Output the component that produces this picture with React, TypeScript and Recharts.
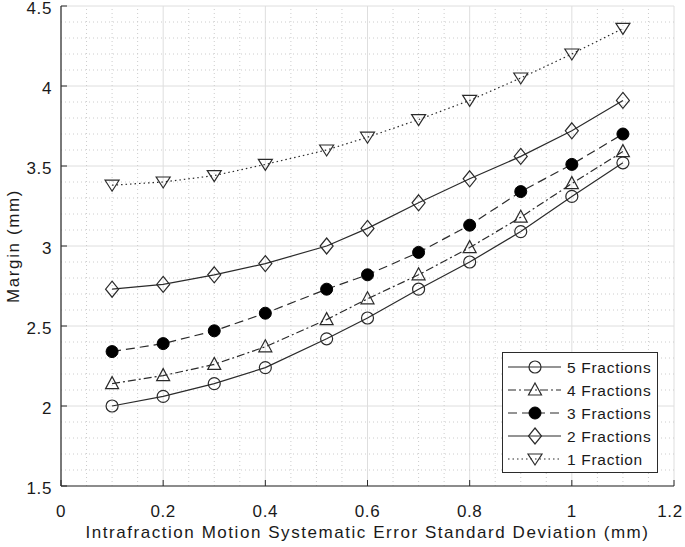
import React from 'react';
import { LineChart, Line, XAxis, YAxis, CartesianGrid, ReferenceLine, Legend } from 'recharts';

const xValues = [0.1, 0.2, 0.3, 0.4, 0.52, 0.6, 0.7, 0.8, 0.9, 1.0, 1.1];
const fractions5 = [2.0, 2.06, 2.14, 2.24, 2.42, 2.55, 2.73, 2.9, 3.09, 3.31, 3.52];
const fractions4 = [2.14, 2.19, 2.26, 2.37, 2.54, 2.67, 2.82, 2.99, 3.18, 3.39, 3.59];
const fractions3 = [2.34, 2.39, 2.47, 2.58, 2.73, 2.82, 2.96, 3.13, 3.34, 3.51, 3.7];
const fractions2 = [2.73, 2.76, 2.82, 2.89, 3.0, 3.11, 3.27, 3.42, 3.56, 3.72, 3.91];
const fractions1 = [3.38, 3.4, 3.44, 3.51, 3.6, 3.68, 3.79, 3.91, 4.05, 4.2, 4.36];

const xTicks = [0, 0.2, 0.4, 0.6, 0.8, 1, 1.2];
const yTicks = [1.5, 2, 2.5, 3, 3.5, 4, 4.5];
const xMinorTicks = [0.05, 0.1, 0.15, 0.25, 0.3, 0.35, 0.45, 0.5, 0.55, 0.65, 0.7, 0.75, 0.85, 0.9, 0.95, 1.05, 1.1, 1.15];
const yMinorTicks = [1.6, 1.7, 1.8, 1.9, 2.1, 2.2, 2.3, 2.4, 2.6, 2.7, 2.8, 2.9, 3.1, 3.2, 3.3, 3.4, 3.6, 3.7, 3.8, 3.9, 4.1, 4.2, 4.3, 4.4];

const seriesNames = ['5 Fractions', '4 Fractions', '3 Fractions', '2 Fractions', '1 Fraction'];
const seriesValues = [fractions5, fractions4, fractions3, fractions2, fractions1];
const seriesDashes = [undefined, '8 3 2 3', '9 5', undefined, '1.5 3'];
const seriesMarkers = ['circle', 'tri', 'filled', 'diamond', 'down'];

const data = xValues.map((x, i) => {
  const row: any = { x };
  seriesValues.forEach((vals, s) => {
    row['s' + s] = vals[i];
  });
  return row;
});

const INK = '#2b2b2b';
const FONT = '"Liberation Sans", Arial, Helvetica, sans-serif';

function Marker({ cx, cy, kind }: { cx: number; cy: number; kind: string }) {
  if (cx == null || cy == null) return null;
  const common = { stroke: INK, strokeWidth: 1.2, fill: 'none' };
  switch (kind) {
    case 'circle':
      return <circle cx={cx} cy={cy} r={6} {...common} />;
    case 'filled':
      return <circle cx={cx} cy={cy} r={6} fill="#000" stroke="#000" strokeWidth={1} />;
    case 'tri':
      return <polygon points={`${cx},${cy - 7} ${cx + 6.5},${cy + 5} ${cx - 6.5},${cy + 5}`} {...common} />;
    case 'diamond':
      return <polygon points={`${cx},${cy - 8} ${cx + 6.5},${cy} ${cx},${cy + 8} ${cx - 6.5},${cy}`} {...common} />;
    case 'down':
      return <polygon points={`${cx - 7},${cy - 5} ${cx + 7},${cy - 5} ${cx},${cy + 6}`} {...common} />;
    default:
      return null;
  }
}

const TICK_LEN = 6;

function BottomTick(props: any) {
  const { x, y, payload, index, visibleTicksCount } = props;
  const isLast = index === visibleTicksCount - 1;
  return (
    <g>
      <line x1={x} y1={y} x2={x} y2={y - TICK_LEN} stroke={INK} strokeWidth={1} />
      <text x={isLast ? x - 4 : x} y={y + 31} textAnchor="middle" fontSize={17} fontFamily={FONT} fill="#1a1a1a" style={{ letterSpacing: 0.6 }}>
        {String(payload.value)}
      </text>
    </g>
  );
}

function TopTick(props: any) {
  const { x, y } = props;
  return <line x1={x} y1={y} x2={x} y2={y + TICK_LEN} stroke={INK} strokeWidth={1} />;
}

function LeftTick(props: any) {
  const { x, y, payload } = props;
  return (
    <g>
      <line x1={x} y1={y} x2={x + TICK_LEN} y2={y} stroke={INK} strokeWidth={1} />
      <text x={x - 9} y={y + 8} textAnchor="end" fontSize={17} fontFamily={FONT} fill="#1a1a1a" style={{ letterSpacing: 0.6 }}>
        {String(payload.value)}
      </text>
    </g>
  );
}

function RightTick(props: any) {
  const { x, y } = props;
  return <line x1={x} y1={y} x2={x - TICK_LEN} y2={y} stroke={INK} strokeWidth={1} />;
}

function XLabel(props: any) {
  const vb = props.viewBox || {};
  const cx = vb.x + vb.width / 2;
  return (
    <text x={cx} y={vb.y + 52} textAnchor="middle" fontSize={17} fontFamily={FONT} fill="#1a1a1a" style={{ letterSpacing: 1.55 }}>
      Intrafraction Motion Systematic Error Standard Deviation (mm)
    </text>
  );
}

function YLabel(props: any) {
  const vb = props.viewBox || {};
  const x = vb.x + 8;
  const y = vb.y + vb.height / 2;
  return (
    <text x={x} y={y} transform={`rotate(-90 ${x} ${y})`} textAnchor="middle" fontSize={17} fontFamily={FONT} fill="#1a1a1a" style={{ letterSpacing: 1.6 }}>
      Margin (mm)
    </text>
  );
}

function LegendBox() {
  const w = 156;
  const rowH = 23;
  const h = 121;
  return (
    <svg width={w} height={h} style={{ display: 'block' }}>
      <rect x={0.5} y={0.5} width={w - 1} height={h - 1} fill="#fff" stroke={INK} strokeWidth={1} />
      {seriesNames.map((name, i) => {
        const cy = 15 + i * rowH;
        return (
          <g key={name}>
            <line x1={6} y1={cy} x2={59} y2={cy} stroke={INK} strokeWidth={1.2} strokeDasharray={seriesDashes[i]} />
            <Marker cx={33} cy={cy} kind={seriesMarkers[i]} />
            <text x={65} y={cy + 5.5} fontSize={15.5} fontFamily={FONT} fill="#1a1a1a" style={{ letterSpacing: 0.7 }}>
              {name}
            </text>
          </g>
        );
      })}
    </svg>
  );
}

export default function App() {
  return (
    <div style={{ position: 'absolute', left: 0, top: 0, width: 685, height: 547, background: '#fff' }}>
      <LineChart width={685} height={547} data={data} margin={{ top: 6, right: 11, bottom: 0, left: 11 }}>
        <CartesianGrid stroke="#dedede" strokeWidth={1} />
        {xMinorTicks.map((v) => (
          <ReferenceLine key={'xm' + v} x={v} stroke="#cccccc" strokeWidth={1} strokeDasharray="1 3" />
        ))}
        {yMinorTicks.map((v) => (
          <ReferenceLine key={'ym' + v} y={v} stroke="#cccccc" strokeWidth={1} strokeDasharray="1 3" />
        ))}
        <XAxis
          dataKey="x"
          type="number"
          domain={[0, 1.2]}
          ticks={xTicks}
          height={61}
          tickSize={0}
          tickMargin={0}
          tickLine={false}
          axisLine={{ stroke: INK, strokeWidth: 1.2 }}
          tick={<BottomTick />}
          interval={0}
          label={<XLabel />}
        />
        <XAxis
          xAxisId="top"
          orientation="top"
          dataKey="x"
          type="number"
          domain={[0, 1.2]}
          ticks={xTicks}
          height={0}
          tickSize={0}
          tickMargin={0}
          tickLine={false}
          axisLine={{ stroke: INK, strokeWidth: 1.2 }}
          tick={<TopTick />}
          interval={0}
        />
        <YAxis
          type="number"
          domain={[1.5, 4.5]}
          ticks={yTicks}
          width={50}
          tickSize={0}
          tickMargin={0}
          tickLine={false}
          axisLine={{ stroke: INK, strokeWidth: 1.2 }}
          tick={<LeftTick />}
          interval={0}
          label={<YLabel />}
        />
        <YAxis
          yAxisId="right"
          orientation="right"
          type="number"
          domain={[1.5, 4.5]}
          ticks={yTicks}
          width={0}
          tickSize={0}
          tickMargin={0}
          tickLine={false}
          axisLine={{ stroke: INK, strokeWidth: 1.2 }}
          tick={<RightTick />}
          interval={0}
        />
        {seriesNames.map((name, s) => (
          <Line
            key={name}
            name={name}
            dataKey={'s' + s}
            type="linear"
            stroke={INK}
            strokeWidth={1.2}
            strokeDasharray={seriesDashes[s]}
            isAnimationActive={false}
            activeDot={false}
            dot={(p: any) => <Marker key={'d' + s + '-' + p.index} cx={p.cx} cy={p.cy} kind={seriesMarkers[s]} />}
          />
        ))}
        <Legend
          layout="horizontal"
          verticalAlign="middle"
          align="center"
          content={() => <LegendBox />}
          wrapperStyle={{ left: 502, top: 352, width: 156, height: 121 }}
        />
      </LineChart>
    </div>
  );
}
